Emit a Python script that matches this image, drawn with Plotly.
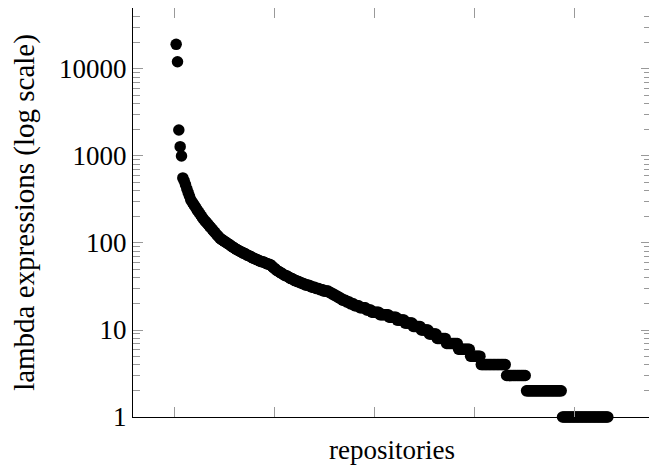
import plotly.graph_objects as go

# Head of the ranking: values
head_counts = [
    19200, 12100, 1990, 1280, 1000, 560,
    520, 470, 420, 380, 345, 312,
    295, 280, 265, 250, 237, 225, 214, 203, 193, 184,
    177, 170, 163, 156, 150, 144, 138, 133, 127, 122, 118, 113,
    110, 108, 105, 103, 100, 98, 96, 93, 91, 89, 87, 85, 83,
    82, 80, 79, 77, 76, 75, 73, 72, 71, 70, 68, 67,
    66, 65, 64, 63, 62, 61, 61, 60, 59, 58, 57, 57, 56,
    54, 52, 51, 49, 48,
    47, 46, 45, 44, 43, 42, 42, 41, 40, 39, 39, 38,
    37, 37, 36, 36, 35, 35, 34, 34, 33, 33, 33, 32, 32,
    31, 31, 31, 30, 30, 30, 29, 29, 29, 28, 28, 28, 28,
    27, 27, 26, 26, 25, 25, 24, 24, 23, 23, 22, 22,
    22, 21, 21, 21, 20, 20, 20, 19, 19, 19, 19, 18, 18,
    18, 18, 18, 17, 17, 17, 17, 16, 16, 16, 16, 16, 16, 15,
]

# Tail of the ranking: plateaus of equal values (value, number of repositories)
tail_values = [15, 14, 13, 12, 11, 10, 9, 8, 7, 6, 5, 4, 3, 2, 1]
tail_counts = [6, 6, 6, 6, 6, 6, 6, 7, 9, 9, 8, 19, 15, 27, 35]

x_tick_values = [0, 75, 150, 225, 300]
y_tick_values = [1, 10, 100, 1000, 10000]
y_tick_labels = ["1", "10", "100", "1000", "10000"]

counts = list(head_counts)
for v, c in zip(tail_values, tail_counts):
    counts.extend([v] * c)
ranks = list(range(1, len(counts) + 1))

minor_vals = [m * 10 ** k for k in range(0, 5) for m in range(2, 10)]

FONT = "Liberation Serif"
FS = 27

fig = go.Figure(
    go.Scatter(
        x=ranks,
        y=counts,
        mode="markers",
        marker=dict(color="black", size=11.5, line=dict(width=0)),
        cliponaxis=False,
        showlegend=False,
    )
)

n = len(counts)
pad = 0.1 * (n - 1)

fig.update_layout(
    width=649,
    height=462,
    margin=dict(l=125, r=6, t=0, b=53),
    paper_bgcolor="white",
    plot_bgcolor="white",
    font=dict(family=FONT, size=FS, color="black"),
    xaxis=dict(
        range=[1 - pad, n + pad],
        tickmode="array",
        tickvals=x_tick_values,
        showticklabels=False,
        ticks="inside",
        ticklen=10,
        tickwidth=1,
        tickcolor="#999999",
        showline=True,
        linecolor="black",
        linewidth=1,
        mirror="allticks",
        showgrid=False,
        zeroline=False,
        title=dict(text="repositories", font=dict(family=FONT, size=FS), standoff=23),
    ),
    yaxis=dict(
        type="log",
        range=[0, 4.701],
        tickmode="array",
        tickvals=y_tick_values,
        ticktext=y_tick_labels,
        ticks="inside",
        ticklen=10,
        tickwidth=1,
        tickcolor="#999999",
        minor=dict(
            tickmode="array",
            tickvals=minor_vals,
            ticks="inside",
            ticklen=7,
            tickwidth=1,
            tickcolor="#999999",
            showgrid=False,
        ),
        showline=True,
        linecolor="black",
        linewidth=1,
        mirror="allticks",
        showgrid=False,
        zeroline=False,
        tickfont=dict(family=FONT, size=FS),
        title=dict(text="lambda expressions (log scale)", font=dict(family=FONT, size=29), standoff=18),
    ),
)

fig.write_html("out.html")
